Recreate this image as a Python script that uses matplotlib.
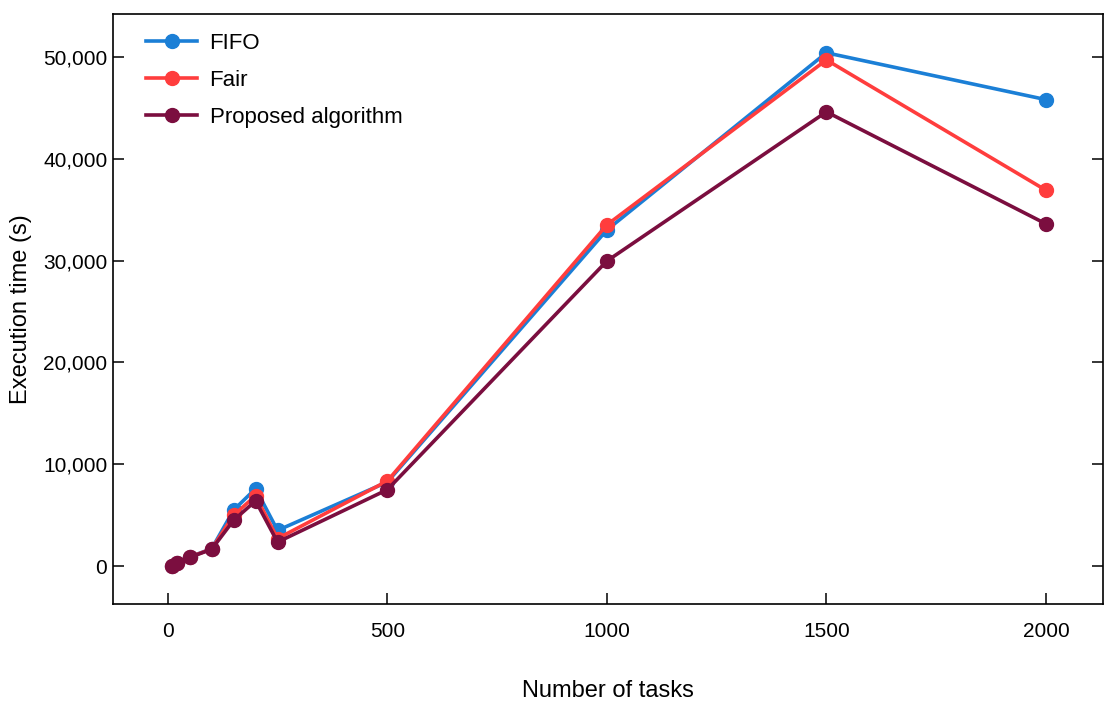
import matplotlib
matplotlib.use("Agg")
import matplotlib.pyplot as plt
from matplotlib.ticker import FuncFormatter

plt.rcParams['font.family'] = ['Liberation Sans', 'DejaVu Sans']

tasks = [10, 20, 50, 100, 150, 200, 250, 500, 1000, 1500, 2000]
fifo = [50, 300, 900, 1700, 5500, 7600, 3500, 8250, 33000, 50400, 45800]
fair = [50, 300, 880, 1680, 5000, 6900, 2700, 8350, 33500, 49700, 36900]
proposed = [50, 280, 850, 1650, 4500, 6400, 2350, 7500, 29950, 44600, 33600]

series = [("FIFO", fifo, "#1b7fd6"), ("Fair", fair, "#ff3d3d"), ("Proposed algorithm", proposed, "#7b0e3f")]

fig = plt.figure(figsize=(11.07, 7.04), dpi=100)
ax = fig.add_axes([0.102, 0.142, 0.8944, 0.838])
for name, vals, col in series:
    ax.plot(tasks, vals, color=col, lw=2.6, marker='o', ms=10, label=name)

ax.set_xlim(-125, 2130)
ax.set_ylim(-3730, 54200)
ax.set_xticks([0, 500, 1000, 1500, 2000])
ax.set_yticks([0, 10000, 20000, 30000, 40000, 50000])
ax.yaxis.set_major_formatter(FuncFormatter(lambda v, p: f"{int(v):,}"))
for s in ax.spines.values():
    s.set_linewidth(1.2)
ax.tick_params(direction='in', length=8, width=1.1, labelsize=15, top=False, right=True)
ax.tick_params(axis='x', pad=13)
ax.tick_params(axis='y', pad=4)
ax.set_xlabel("Number of tasks", fontsize=17, labelpad=28)
ax.set_ylabel("Execution time (s)", fontsize=17, labelpad=8)
ax.legend(loc='upper left', bbox_to_anchor=(0.018, 0.995), frameon=False, fontsize=16,
          handlelength=2.3, handletextpad=0.55, labelspacing=0.72, borderaxespad=0.3)
fig.savefig("out.png", dpi=100)
